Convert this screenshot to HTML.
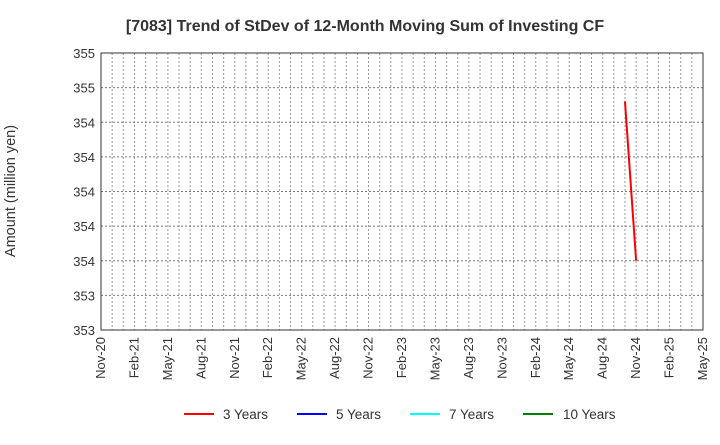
<!DOCTYPE html>
<html><head><meta charset="utf-8"><style>
body{margin:0;background:#fff;font-family:"Liberation Sans",sans-serif;}
svg text{font-family:"Liberation Sans",sans-serif;}
</style></head><body>
<svg id="chart" width="720" height="440" xmlns="http://www.w3.org/2000/svg">
<text x="365" y="31" text-anchor="middle" font-size="16" font-weight="bold" fill="#333">[7083]  Trend of StDev of 12-Month Moving Sum of Investing CF</text>
<text x="15" y="191" text-anchor="middle" font-size="14.5" fill="#333" transform="rotate(-90 15 191)">Amount (million yen)</text>
<g id="grid"></g><g id="axes"></g><g id="series"></g>
<g font-size="13.5" fill="#333">
<g><line x1="184" y1="414" x2="214" y2="414" stroke="#ff0000" stroke-width="2"/><text x="223" y="419">3 Years</text></g>
<g><line x1="297" y1="414" x2="327" y2="414" stroke="#0000ff" stroke-width="2"/><text x="336" y="419">5 Years</text></g>
<g><line x1="410" y1="414" x2="440" y2="414" stroke="#00ffff" stroke-width="2"/><text x="449" y="419">7 Years</text></g>
<g><line x1="523" y1="414" x2="553" y2="414" stroke="#008000" stroke-width="2"/><text x="563" y="419">10 Years</text></g>
</g>
</svg>
<script>
const xLabels=["Nov-20","Feb-21","May-21","Aug-21","Nov-21","Feb-22","May-22","Aug-22","Nov-22","Feb-23","May-23","Aug-23","Nov-23","Feb-24","May-24","Aug-24","Nov-24","Feb-25","May-25"];
const yTicks=[353.2,353.4,353.6,353.8,354.0,354.2,354.4,354.6,354.8];
const series3Months=[47,48]; // months since Nov-20
const series3Values=[354.52,353.6];
const L=101,R=703,T=53,B=330,NM=54,YMIN=353.2,YMAX=354.8;
const xs=m=>L+(R-L)*m/NM;
const ys=v=>B-(B-T)*(v-YMIN)/(YMAX-YMIN);
const NS="http://www.w3.org/2000/svg";
function mk(tag,attrs,parent){const e=document.createElementNS(NS,tag);for(const k in attrs)e.setAttribute(k,attrs[k]);parent.appendChild(e);return e;}
const grid=document.getElementById('grid'),axes=document.getElementById('axes'),ser=document.getElementById('series');
for(let m=1;m<NM;m++){
 const l=mk('line',{x1:xs(m),x2:xs(m),y1:T,y2:B,stroke:'#999','stroke-dasharray':'2,2','stroke-width':1},grid);
 
 
}
yTicks.forEach((v,i)=>{
 if(i>0&&i<yTicks.length-1){
  const l=mk('line',{x1:L,x2:R,y1:ys(v),y2:ys(v),stroke:'#777','stroke-dasharray':'2,2','stroke-width':1},grid);
  
  
 }
 const t=mk('text',{x:L-6,y:ys(v)+5,'text-anchor':'end','font-size':13,fill:'#333'},axes);
 
 
 t.textContent=v.toFixed(0);
});
xLabels.forEach((s,i)=>{
 const x=xs(i*3),y=B+7;
 const t=mk('text',{x:x+4,y:y,'text-anchor':'end','font-size':13,fill:'#333',transform:`rotate(-90 ${x+4} ${y})`},axes);
 
 
 t.textContent=s;
});
const frame=mk('rect',{x:L,y:T,width:R-L,height:B-T,fill:'none',stroke:'#333','stroke-width':1},axes);


const pts=series3Months.map((m,i)=>xs(m)+','+ys(series3Values[i])).join(' ');
const pl=mk('polyline',{points:pts,fill:'none',stroke:'#ff0000','stroke-width':2},ser);


</script>
</body></html>
